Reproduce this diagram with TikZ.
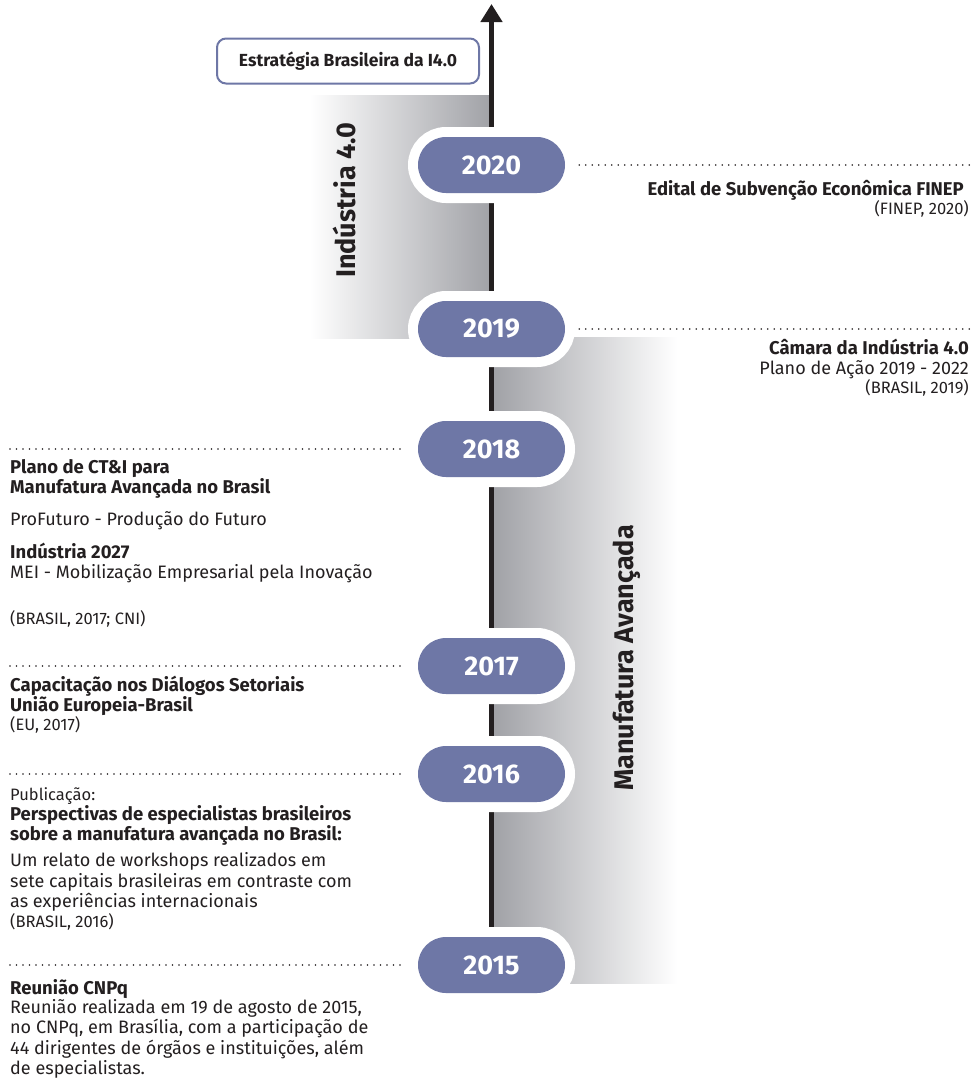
\documentclass[tikz,border=0pt]{standalone}
\usepackage{fontspec}
\setmainfont{Fira Sans}
\usetikzlibrary{arrows.meta}
\definecolor{pillc}{RGB}{110,119,166}
\definecolor{txt}{RGB}{35,31,32}
\definecolor{bandg}{RGB}{160,161,166}
\begin{document}
\begin{tikzpicture}[x=1bp,y=-1bp,
  body/.style={inner sep=0, font=\fontsize{18bp}{21bp}\selectfont, text=txt},
  bodyb/.style={body, font=\fontsize{18.5bp}{21bp}\selectfont\bfseries},
  cite/.style={body, font=\fontsize{16.5bp}{20bp}\selectfont},
  lt/.style={anchor=base west},
  rt/.style={anchor=base east},
  pill/.style={rectangle, rounded corners=28bp, minimum width=147bp, minimum height=56bp,
    inner sep=0, fill=pillc, text=white, font=\fontsize{27bp}{30bp}\selectfont\bfseries,
    preaction={draw=white, line width=20bp}},
  dotl/.style={draw=txt, line width=1.8bp, line cap=round, dash pattern=on 0bp off 6.5bp},
  band/.style={font=\fontsize{27bp}{30bp}\selectfont\bfseries, text=txt, rotate=90, inner sep=0}
]
\useasboundingbox (0,0) rectangle (977,1082);

% gradient bands
\fill[left color=white, right color=bandg] (310,95) rectangle (492,338);
\fill[left color=bandg, right color=white] (492,337) rectangle (677,983);

% band labels
\node[band] (lbl40) at (344,200) {Indústria 4.0};
\node[band] (lblma) at (627,658) {Manufatura Avançada};

% axis
\coordinate (axbot) at (491.5,965);
\coordinate (axtop) at (491.5,4);
\draw[txt, line width=5bp, -{Triangle[width=21bp,length=18bp]}] (axbot) -- (axtop);

% strategy box
\node[draw=pillc, line width=2bp, rounded corners=9bp, minimum width=262bp, minimum height=45bp,
  fill=white, inner sep=0, text=txt, font=\fontsize{17.5bp}{20bp}\selectfont\bfseries] (strat) at (348,61)
  {Estratégia Brasileira da I4.0};

% year pills
\node[pill] (p2020) at (491.5,165) {2020};
\node[pill] (p2019) at (491.5,329) {2019};
\node[pill] (p2018) at (491.5,449) {2018};
\node[pill] (p2017) at (491.5,666) {2017};
\node[pill] (p2016) at (491.5,774) {2016};
\node[pill] (p2015) at (491.5,965) {2015};

% dotted leaders
\coordinate (e2020) at (971,165);
\coordinate (e2019) at (971,329);
\coordinate (w2018) at (10,449);
\coordinate (w2017) at (10,666);
\coordinate (w2016) at (10,774);
\coordinate (w2015) at (10,965);
\draw[dotl] ([xshift=14bp]p2020.east) -- (e2020);
\draw[dotl] ([xshift=14bp]p2019.east) -- (e2019);
\draw[dotl] (w2018) -- ([xshift=-14bp]p2018.west);
\draw[dotl] (w2017) -- ([xshift=-14bp]p2017.west);
\draw[dotl] (w2016) -- ([xshift=-14bp]p2016.west);
\draw[dotl] (w2015) -- ([xshift=-14bp]p2015.west);

% right texts
\node[bodyb, rt] (t20a) at (964,195) {Edital de Subvenção Econômica FINEP};
\node[cite, rt] (t20b) at (969,214) {(FINEP, 2020)};
\node[bodyb, rt] (t19a) at (969,354) {Câmara da Indústria 4.0};
\node[body, rt] (t19b) at (969,374) {Plano de Ação 2019 - 2022};
\node[cite, rt] (t19c) at (969,393) {(BRASIL, 2019)};

% left texts 2018
\node[bodyb, lt] (t18a) at (10,473) {Plano de CT\&I para};
\node[bodyb, lt] (t18b) at (10,493) {Manufatura Avançada no Brasil};
\node[body, lt] (t18c) at (10,525) {ProFuturo - Produção do Futuro};
\node[bodyb, lt] (t18d) at (10,558) {Indústria 2027};
\node[body, lt] (t18e) at (10,578) {MEI - Mobilização Empresarial pela Inovação};
\node[cite, lt] (t18f) at (10,624) {(BRASIL, 2017; CNI)};

% 2017
\node[bodyb, lt] (t17a) at (10,691) {Capacitação nos Diálogos Setoriais};
\node[bodyb, lt] (t17b) at (10,711) {União Europeia-Brasil};
\node[cite, lt] (t17c) at (10,730) {(EU, 2017)};

% 2016
\node[cite, lt] (t16a) at (10,800) {Publicação:};
\node[bodyb, lt] (t16b) at (10,820) {Perspectivas de especialistas brasileiros};
\node[bodyb, lt] (t16c) at (10,840) {sobre a manufatura avançada no Brasil:};
\node[body, lt] (t16d) at (10,866) {Um relato de workshops realizados em};
\node[body, lt] (t16e) at (10,887) {sete capitais brasileiras em contraste com};
\node[body, lt] (t16f) at (10,907) {as experiências internacionais};
\node[cite, lt] (t16g) at (10,927) {(BRASIL, 2016)};

% 2015
\node[bodyb, lt] (t15a) at (10,994) {Reunião CNPq};
\node[body, lt] (t15b) at (10,1013) {Reunião realizada em 19 de agosto de 2015,};
\node[body, lt] (t15c) at (10,1033) {no CNPq, em Brasília, com a participação de};
\node[body, lt] (t15d) at (10,1054) {44 dirigentes de órgãos e instituições, além};
\node[body, lt] (t15e) at (10,1074) {de especialistas.};
\end{tikzpicture}
\end{document}
